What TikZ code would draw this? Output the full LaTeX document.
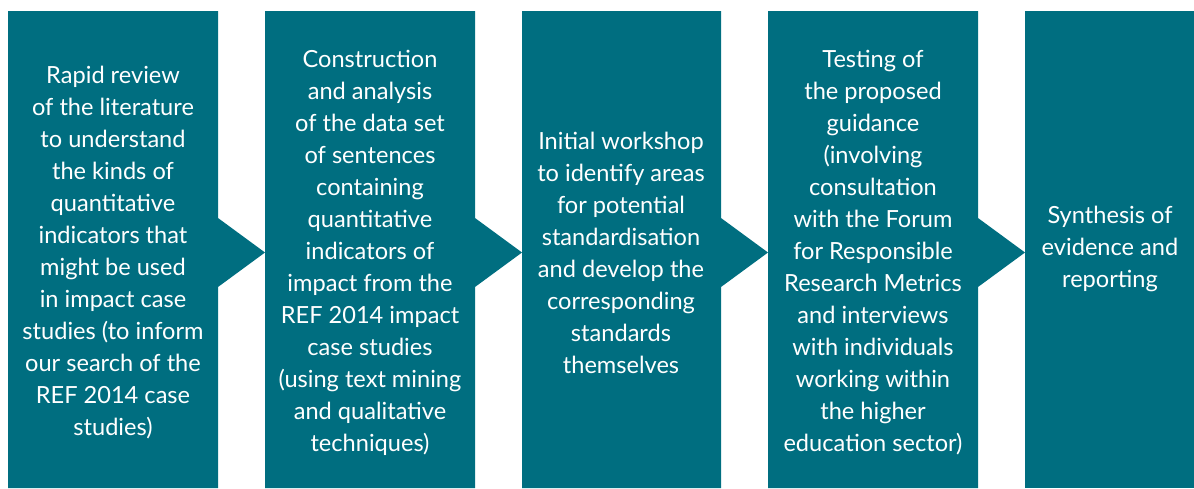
\documentclass[tikz,border=0pt]{standalone}
\usepackage{fontspec}
\setmainfont{Lato}
\usetikzlibrary{calc}

\begin{document}
\begin{tikzpicture}[line join=miter,x=0.5pt,y=-0.5pt]
\definecolor{tealstep}{RGB}{0,110,128}
\tikzset{steptext/.style={text=white,align=center,font=\fontsize{11.8}{16}\selectfont,inner sep=0pt}}
\useasboundingbox (0,0) rectangle (1194,488);
% panels with their arrow heads
\fill[tealstep] (8,11) -- (218,11) -- (218,218) -- (265,252.5) -- (218,287) -- (218,488) -- (8,488) -- cycle;
\fill[tealstep] (265,11) -- (475,11) -- (475,218) -- (522,252.5) -- (475,287) -- (475,488) -- (265,488) -- cycle;
\fill[tealstep] (522,11) -- (721,11) -- (721,218) -- (768,252.5) -- (721,287) -- (721,488) -- (522,488) -- cycle;
\fill[tealstep] (768,11) -- (978,11) -- (978,218) -- (1025,252.5) -- (978,287) -- (978,488) -- (768,488) -- cycle;
\fill[tealstep] (1025,11) -- (1194,11) -- (1194,488) -- (1025,488) -- cycle;
% texts
\node[steptext] (review) at (113,253) {Rapid review\\of the literature\\to understand\\the kinds of\\quantitative\\indicators that\\might be used\\in impact case\\studies (to inform\\our search of the\\REF 2014 case\\studies)};
\node[steptext] (dataset) at (370,253) {Construction\\and analysis\\of the data set\\of sentences\\containing\\quantitative\\indicators of\\impact from the\\REF 2014 impact\\case studies\\(using text mining\\and qualitative\\techniques)};
\node[steptext] (workshop) at (621,253) {Initial workshop\\to identify areas\\for potential\\standardisation\\and develop the\\corresponding\\standards\\themselves};
\node[steptext] (testing) at (873,253) {Testing of\\the proposed\\guidance\\(involving\\consultation\\with the Forum\\for Responsible\\Research Metrics\\and interviews\\with individuals\\working within\\the higher\\education sector)};
\node[steptext] (synthesis) at (1110,249) {Synthesis of\\evidence and\\reporting};
\end{tikzpicture}
\end{document}
